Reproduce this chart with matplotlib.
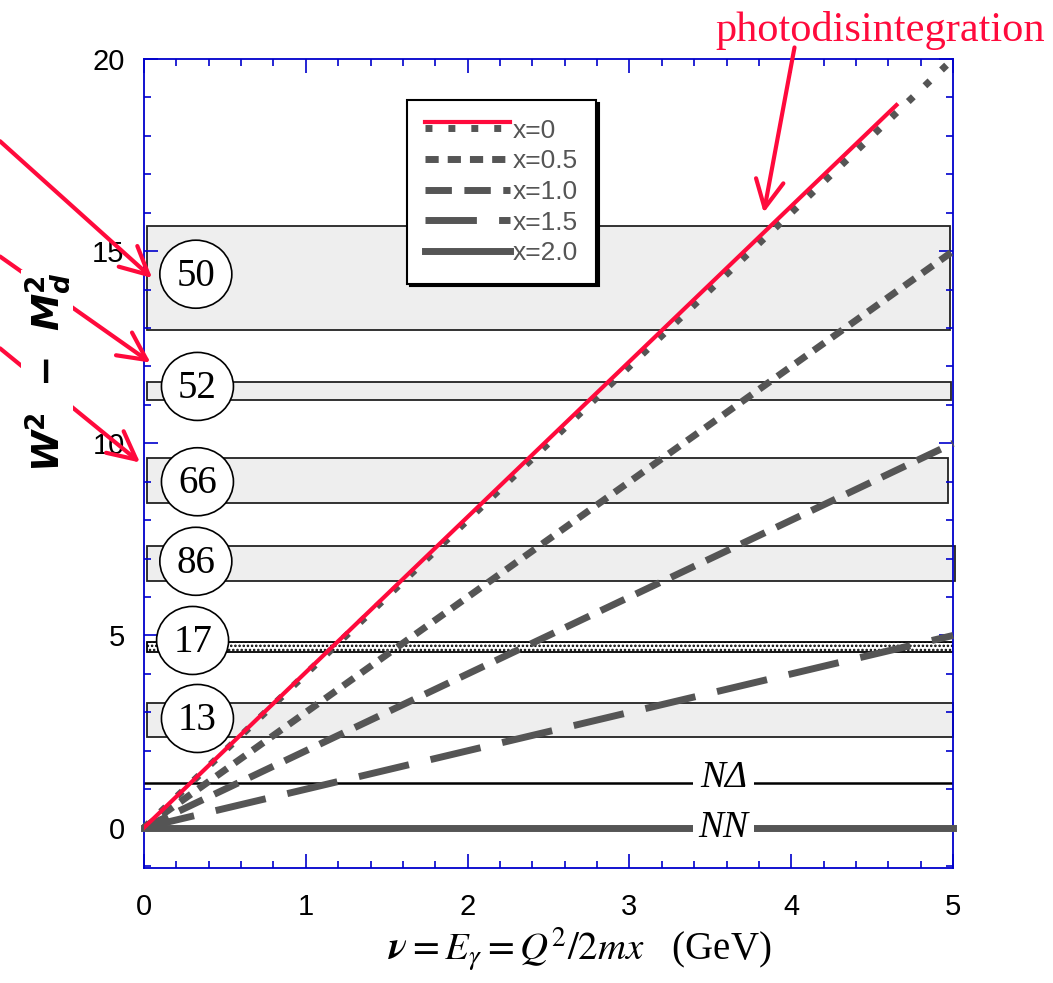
import numpy as np
import matplotlib
matplotlib.use("Agg")
from matplotlib import pyplot as plt
from matplotlib.patches import Rectangle, Ellipse
from matplotlib.legend_handler import HandlerLine2D, HandlerTuple

# lines W^2 - M_d^2 vs nu for several x (straight lines, value at both ends)
nu_ends = [0, 5]
x_values = ['0', '0.5', '1.0', '1.5', '2.0']
w2_ends = [[0, 20], [0, 15], [0, 10], [0, 5], [0, 0]]

# photodisintegration line
photo_nu = [0, 4.65]
photo_w2 = [0, 18.8]

# experiment bands (reference numbers)
band_labels = ['50', '52', '66', '86', '17', '13']
band_lo = [12.95, 11.12, 8.45, 6.43, 4.58, 2.37]
band_hi = [15.65, 11.60, 9.62, 7.32, 4.82, 3.23]
band_left = [0.02, 0.02, 0.02, 0.02, 0.02, 0.02]
band_right = [4.98, 4.99, 4.97, 5.01, 5.0, 5.0]
circle_nu = [0.32, 0.33, 0.33, 0.32, 0.30, 0.33]
circle_w2 = [14.4, 11.48, 9.0, 6.93, 4.87, 2.84]

# thresholds
ndelta_w2 = 1.15
nn_w2 = 0.0

# red arrows from the left margin: (tail, head) in data units
arrow_tail = [(-0.89, 17.86), (-0.89, 14.86), (-0.89, 12.47)]
arrow_head = [(0.05, 14.3), (0.04, 12.1), (-0.025, 9.5)]
photo_tail = (4.02, 20.3)
photo_head = (3.83, 16.0)

red = '#ff0a3c'
grey = '#555555'
blue = '#0000cc'

plt.rcParams['lines.scale_dashes'] = False
plt.rcParams['mathtext.fontset'] = 'stix'
plt.rcParams['hatch.linewidth'] = 1.2

fig = plt.figure(figsize=(10.53, 9.83), dpi=100)
ax = fig.add_axes([0.1368, 0.117, 0.7683, 0.823])

# bands
for lab, lo, hi, l, r in zip(band_labels, band_lo, band_hi, band_left, band_right):
    if lab == '17':
        # the 17 band is stippled
        ax.add_patch(Rectangle((l, lo), r - l, hi - lo, facecolor='white',
                               edgecolor='black', hatch='....', lw=1.3, zorder=1))
    else:
        ax.add_patch(Rectangle((l, lo), r - l, hi - lo, facecolor='#eeeeee',
                               edgecolor='#222222', lw=1.3, zorder=1, clip_on=False))

for lab, cx, cy in zip(band_labels, circle_nu, circle_w2):
    ax.add_patch(Ellipse((cx, cy), 0.445, 1.77, facecolor='white', edgecolor='black',
                         lw=1.2, zorder=3))
    ax.text(cx, cy - 0.05, lab, fontsize=28, family='Liberation Serif',
            ha='center', va='center', zorder=4)

# threshold lines
ax.plot(nu_ends, [ndelta_w2, ndelta_w2], color='black', lw=1.8, zorder=2)

styles = [(0, (5, 11.5)), (0, (9.5, 6.5)), (0, (19, 9)), (0, (37, 16)), '-']
lines = []
for lab, w2, ls in zip(x_values, w2_ends, styles):
    ln, = ax.plot(nu_ends, w2, color=grey, lw=5, linestyle=ls, label='x=' + lab,
                  zorder=5, clip_on=False)
    lines.append(ln)

red_line, = ax.plot(photo_nu, photo_w2, color=red, lw=3, zorder=6)

ax.text(3.58, ndelta_w2 + 0.15, 'N\u0394', fontsize=27, family='Liberation Serif',
        style='italic', ha='center', va='center', zorder=7,
        bbox=dict(facecolor='white', edgecolor='none', pad=5))
ax.text(3.58, nn_w2, 'NN', fontsize=27, family='Liberation Serif', style='italic',
        ha='center', va='center', zorder=7,
        bbox=dict(facecolor='white', edgecolor='none', pad=4))

ax.set_xlim(0, 5)
ax.set_ylim(-1.05, 20)
ax.set_xticks([0, 1, 2, 3, 4, 5])
ax.set_yticks([0, 5, 10, 15, 20])
ax.set_xticks(np.arange(0, 5.01, 0.2), minor=True)
ax.set_yticks(np.arange(-1, 20.01, 1), minor=True)
ax.tick_params(which='both', direction='in', top=True, right=True, color=blue,
               labelsize=21, pad=14)
ax.tick_params(axis='x', which='major', pad=18)
ax.tick_params(which='major', length=10, width=1.2)
ax.tick_params(which='minor', length=5, width=1.2)
for lbl in ax.get_xticklabels() + ax.get_yticklabels():
    lbl.set_family('Liberation Sans')
for sp in ax.spines.values():
    sp.set_color(blue)
    sp.set_linewidth(1.3)

# legend with the red line sitting just above the dotted sample
class RaisedLine(HandlerLine2D):
    def create_artists(self, legend, orig_handle, xdescent, ydescent, width, height,
                       fontsize, trans):
        arts = super().create_artists(legend, orig_handle, xdescent, ydescent, width,
                                      height, fontsize, trans)
        for a in arts:
            a.set_ydata(np.asarray(a.get_ydata()) + 0.35 * height)
        return arts

handles = [(lines[0], red_line)] + lines[1:]
leg = ax.legend(handles, [l.get_label() for l in lines], loc='upper left',
                bbox_to_anchor=(0.325, 0.949), borderaxespad=0, fancybox=False,
                shadow={'color': 'black', 'alpha': 1}, framealpha=1, edgecolor='black',
                prop={'family': 'Liberation Sans', 'size': 19}, labelcolor=grey,
                handlelength=3.2, handletextpad=0.1, labelspacing=0.25,
                borderpad=0.7,
                handler_map={red_line: RaisedLine(), tuple: HandlerTuple(ndivide=1)})
leg.get_frame().set_linewidth(1.5)
leg.set_zorder(10)

# red arrows
arrow_kw = dict(arrowstyle='->, head_length=0.8, head_width=0.4', color=red, lw=3,
                mutation_scale=25, shrinkA=0, shrinkB=0)
for tail, head in zip(arrow_tail, arrow_head):
    ax.annotate('', xy=head, xytext=tail, arrowprops=arrow_kw, annotation_clip=False,
                zorder=8)

ax.text(4.55, 20.75, 'photodisintegration', fontsize=30.5, family='Liberation Serif',
        color=red, ha='center', va='center', zorder=8)
ax.annotate('', xy=photo_head, xytext=photo_tail, arrowprops=arrow_kw,
            annotation_clip=False, zorder=8)

fig.text(0.045, 0.622, r'$\mathbfit{W}^\mathbf{2}\ \ \mathbf{-}\ \ \mathbfit{M}_\mathbfit{d}^\mathbf{2}$',
         rotation=90, fontsize=27, ha='center', va='center', zorder=20,
         math_fontfamily='dejavusans',
         bbox=dict(facecolor='white', edgecolor='none', pad=1))

fig.text(0.551, 0.034, r'$\boldsymbol{\nu} = E_\gamma = Q^2/2mx$   (GeV)',
         fontsize=28, family='Liberation Serif', ha='center', va='center')

fig.savefig('out.png', dpi=100)
